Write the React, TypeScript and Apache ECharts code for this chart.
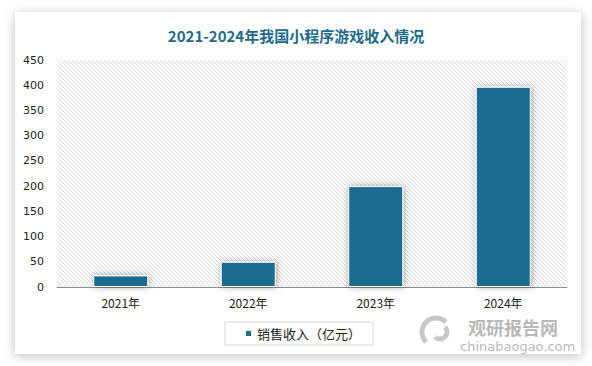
import React, { useEffect, useRef } from "react";
import * as echarts from "echarts";

const categories = ["2021年", "2022年", "2023年", "2024年"];
const salesRevenue = [23, 50, 200, 397];
const seriesName = "销售收入（亿元）";
const titleText = "2021-2024年我国小程序游戏收入情况";

function makeHatch() {
  const c = document.createElement("canvas");
  c.width = 4;
  c.height = 4;
  const ctx = c.getContext("2d")!;
  ctx.fillStyle = "#ffffff";
  ctx.fillRect(0, 0, 4, 4);
  ctx.strokeStyle = "#d9d9d9";
  ctx.lineWidth = 1;
  ctx.beginPath();
  ctx.moveTo(-1, -1);
  ctx.lineTo(5, 5);
  ctx.moveTo(-1, 3);
  ctx.lineTo(1, 5);
  ctx.moveTo(3, -1);
  ctx.lineTo(5, 1);
  ctx.stroke();
  return c;
}

export default function App() {
  const ref = useRef<HTMLDivElement>(null);
  useEffect(() => {
    const chart = echarts.init(ref.current!, null, { renderer: "svg" });
    const hatch = makeHatch();
    chart.setOption({
      animation: false,
      backgroundColor: "#ffffff",
      title: {
        text: titleText,
        left: "center",
        top: 23,
        textStyle: {
          fontSize: 15,
          fontWeight: "bold",
          color: "#1f6b8d",
          fontFamily: "Noto Sans CJK SC",
        },
      },
      graphic: [
        {
          type: "rect",
          z: -10,
          silent: true,
          shape: { x: 15, y: 12, width: 566, height: 342 },
          style: {
            fill: "#ffffff",
            shadowBlur: 12,
            shadowColor: "rgba(0,0,0,0.25)",
            shadowOffsetX: 0,
            shadowOffsetY: 2,
          },
        },
        {
          type: "arc",
          z: 10,
          silent: true,
          shape: { cx: 436, cy: 332, r: 14, startAngle: Math.PI * 0.75, endAngle: Math.PI * 1.75 },
          style: { stroke: "#bdbdbd", lineWidth: 5, fill: "none", opacity: 0.85 },
        },
        {
          type: "arc",
          z: 10,
          silent: true,
          shape: { cx: 440, cy: 332, r: 7, startAngle: Math.PI * 1.75, endAngle: Math.PI * 2.75 },
          style: { stroke: "#bdbdbd", lineWidth: 5, fill: "none", opacity: 0.85 },
        },
        {
          type: "text",
          z: 10,
          silent: true,
          left: 468,
          top: 318,
          style: {
            text: "观研报告网",
            fontSize: 18,
            lineHeight: 18,
            fontWeight: "bold",
            fill: "#ababab",
            opacity: 0.85,
            fontFamily: "Noto Sans CJK SC",
          },
        },
        {
          type: "text",
          z: 10,
          silent: true,
          left: 460,
          top: 340,
          style: {
            text: "chinabaogao.com",
            fontSize: 13,
            lineHeight: 13,
            fill: "#ababab",
            opacity: 0.85,
            fontFamily: "DejaVu Sans",
          },
        },
      ],
      legend: {
        left: 225,
        top: 322,
        padding: [5, 12, 5, 19],
        borderColor: "#d9d9d9",
        borderWidth: 1,
        icon: "rect",
        itemWidth: 7,
        itemHeight: 7,
        itemGap: 4,
        textStyle: { fontSize: 13, color: "#222", fontFamily: "Noto Sans CJK SC" },
        data: [seriesName],
      },
      grid: {
        left: 57,
        right: 25,
        top: 60,
        bottom: 79,
        show: true,
        borderWidth: 0,
        backgroundColor: {
          image: hatch,
          imageWidth: 4,
          imageHeight: 4,
          repeat: "repeat",
        },
      },
      xAxis: {
        type: "category",
        data: categories,
        axisLine: { lineStyle: { color: "#8c8c8c", width: 1 } },
        axisTick: { show: false },
        axisLabel: {
          color: "#222",
          fontSize: 12,
          lineHeight: 13,
          margin: 9,
          fontFamily: "Noto Sans CJK SC",
        },
      },
      yAxis: {
        type: "value",
        min: 0,
        max: 450,
        interval: 50,
        axisLine: { show: false },
        axisTick: { show: false },
        splitLine: { show: false },
        axisLabel: { color: "#222", fontSize: 11, margin: 13, fontFamily: "DejaVu Sans" },
      },
      series: [
        {
          name: seriesName,
          type: "bar",
          data: salesRevenue,
          barWidth: 55,
          itemStyle: {
            color: "#1d6b8f",
            borderColor: "#ffffff",
            borderWidth: 1,
            shadowBlur: 7,
            shadowColor: "rgba(0,0,0,0.35)",
            shadowOffsetX: 1,
            shadowOffsetY: 0,
          },
        },
      ],
    });
    return () => chart.dispose();
  }, []);
  return (
    <div
      ref={ref}
      style={{ position: "fixed", left: 0, top: 0, width: 592, height: 366 }}
    />
  );
}
